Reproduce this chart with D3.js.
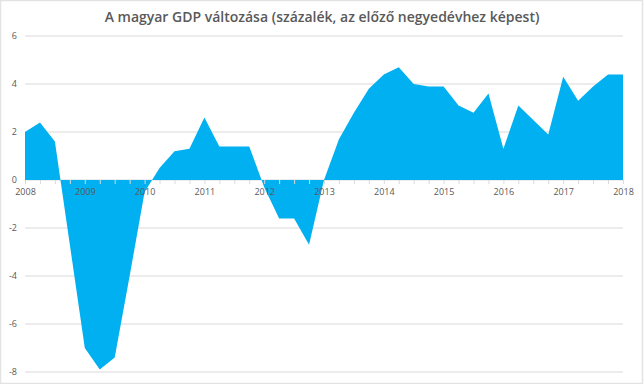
<!DOCTYPE html>
<html>
<head>
<meta charset="utf-8">
<script src="https://cdn.jsdelivr.net/npm/d3@7"></script>
<style>
  body { margin: 0; background: #fff; }
  text { font-family: "Open Sans", "Noto Sans", sans-serif; fill: #595959; }
</style>
</head>
<body>
<div id="chart"></div>
<script>
// quarterly GDP change (%, vs previous quarter), 2008 Q1 .. 2018 Q1
const quarters = d3.range(41);
const values = [2.0, 2.4, 1.6, -2.7, -7.0, -7.9, -7.4, -4.0, -0.5, 0.5, 1.2, 1.3,
                2.6, 1.4, 1.4, 1.4, -0.3, -1.6, -1.6, -2.7, 0.0, 1.7, 2.8, 3.8,
                4.4, 4.7, 4.0, 3.9, 3.9, 3.1, 2.8, 3.6, 1.3, 3.1, 2.5, 1.9,
                4.3, 3.3, 3.9, 4.4, 4.4];
const yearLabels = ['2008','2009','2010','2011','2012','2013','2014','2015','2016','2017','2018'];
const yTicks = [-8, -6, -4, -2, 0, 2, 4, 6];
const title = 'A magyar GDP változása (százalék, az előző negyedévhez képest)';

const W = 644, H = 384;
const svg = d3.select('#chart').append('svg').attr('width', W).attr('height', H);

// outer frame
svg.append('rect').attr('x', 0.5).attr('y', 0.5).attr('width', W - 2).attr('height', H - 1)
  .attr('fill', '#fff').attr('stroke', '#e3e3e3').attr('stroke-width', 1.5);

const x = d3.scaleLinear().domain([0, 40]).range([25, 623]);
const y = d3.scaleLinear().domain([-8, 6]).range([372, 36]);

// gridlines (zero line included, sits under the area)
svg.append('g').selectAll('line').data(yTicks).join('line')
  .attr('x1', x(0)).attr('x2', x(40))
  .attr('y1', d => y(d)).attr('y2', d => y(d))
  .attr('stroke', '#d9d9d9').attr('stroke-width', 1);

// area
const area = d3.area().x((d, i) => x(i)).y0(y(0)).y1(d => y(d));
svg.append('path').attr('d', area(values)).attr('fill', '#00b0f0');

// x axis ticks + labels on top
const xAxis = d3.axisBottom(x).tickValues(quarters).tickSize(4).tickFormat(d => d % 4 === 0 ? yearLabels[d / 4] : '');
const gx = svg.append('g').attr('transform', `translate(0,${y(0)})`).call(xAxis);
gx.select('.domain').remove();
gx.selectAll('.tick line').attr('stroke', '#d9d9d9');
gx.selectAll('.tick text').attr('font-size', 9).attr('dy', '0.85em').style('fill', '#595959');
gx.attr('font-family', null);

// y labels
svg.append('g').selectAll('text').data(yTicks).join('text')
  .attr('x', 17).attr('y', d => y(d)).attr('dy', '0.35em')
  .attr('text-anchor', 'end').attr('font-size', 9).text(d => d);

// title
svg.append('text').attr('x', 322).attr('y', 22).attr('text-anchor', 'middle')
  .attr('font-size', 14).attr('font-weight', 600).text(title);
</script>
</body>
</html>
